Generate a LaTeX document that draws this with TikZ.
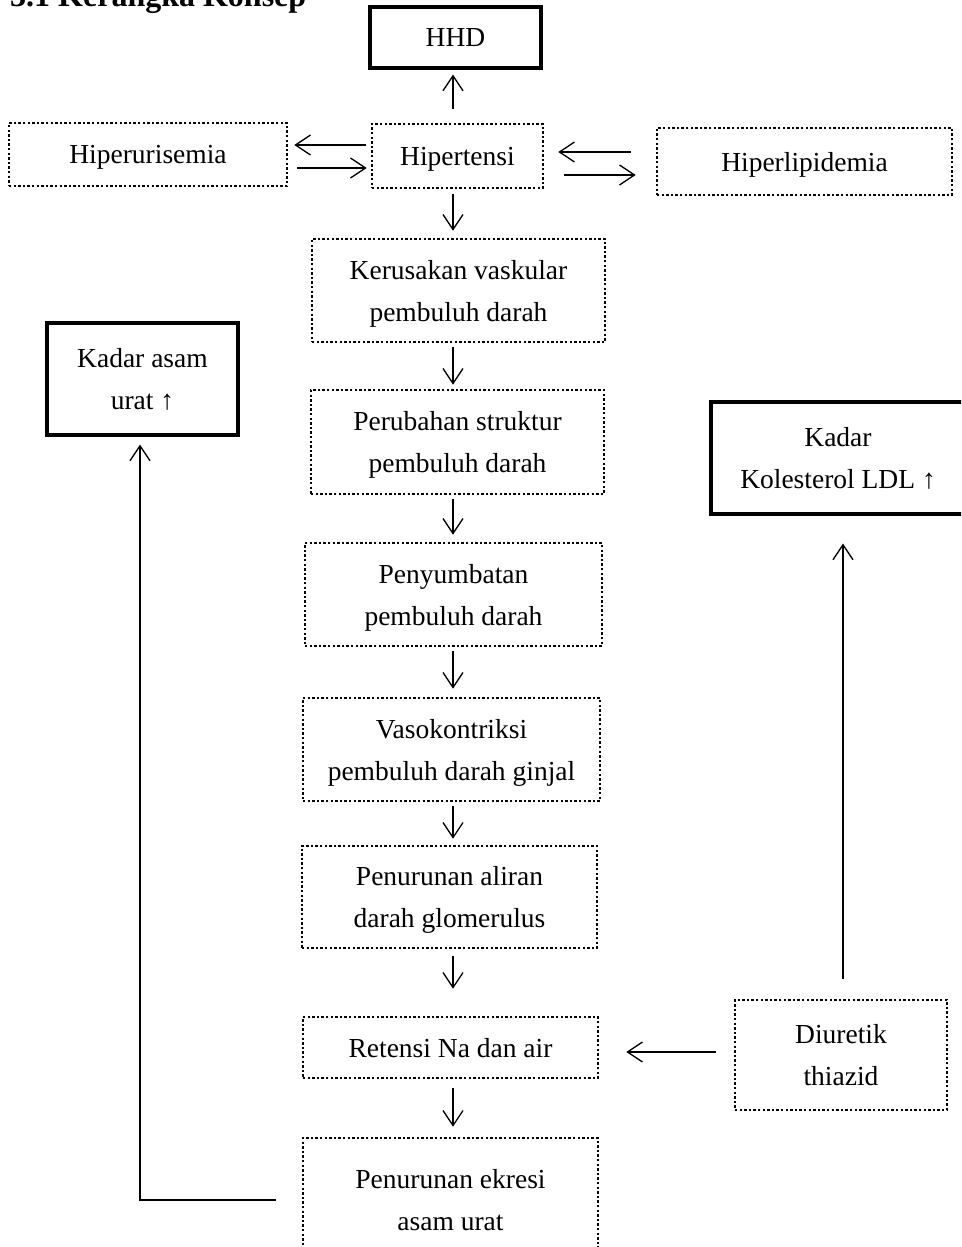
\documentclass[tikz,border=0pt]{standalone}
\usepackage{fontspec}
\setmainfont{Liberation Serif}
\usetikzlibrary{arrows.meta,calc}
\tikzset{
  body/.style={font=\fontsize{27.5}{42}\selectfont, align=center, inner sep=0pt, text depth=-2pt},
  dotbox/.style={body, draw, line width=2.6pt, dash pattern=on 2.4pt off 2.2pt},
  solidbox/.style={body, draw, line width=3.2pt},
  arr/.style={-{Straight Barb[length=15pt,width=20pt]}, line width=1.3pt},
}
\newcommand{\bx}[7]{% name style x1 y1 x2 y2 text
  \node[#2, minimum width={(#5-#3)*1pt}, minimum height={(#6-#4)*1pt}] (#1) at ({(#3+#5)/2},{(#4+#6)/2}) {#7};}
\begin{document}
\begin{tikzpicture}[x=1pt,y=-1pt]
\useasboundingbox (0,0) rectangle (961,1247);
\clip (0,0) rectangle (961,1247);
\node[anchor=base west, font=\fontsize{32}{38}\selectfont\bfseries, inner sep=0pt] (title) at (10,7) {3.1 Kerangka Konsep};
\bx{hhd}{solidbox}{370}{7}{541}{68}{HHD}
\bx{hur}{dotbox}{9}{123}{287}{186}{Hiperurisemia}
\bx{hip}{dotbox}{372}{124}{543}{188}{Hipertensi}
\bx{lip}{dotbox}{657}{128}{952}{195}{Hiperlipidemia}
\bx{ker}{dotbox}{312}{239}{605}{342}{Kerusakan vaskular\\pembuluh darah}
\bx{per}{dotbox}{311}{390}{604}{494}{Perubahan struktur\\pembuluh darah}
\bx{pey}{dotbox}{305}{543}{602}{646}{Penyumbatan\\pembuluh darah}
\bx{vas}{dotbox}{303}{698}{600}{801}{Vasokontriksi\\pembuluh darah ginjal}
\bx{pen}{dotbox}{302}{846}{597}{948}{Penurunan aliran\\darah glomerulus}
\bx{ret}{dotbox}{303}{1017}{598}{1078}{Retensi Na dan air}
\bx{eks}{dotbox}{303}{1138}{598}{1262}{Penurunan ekresi\\asam urat}
\bx{kau}{solidbox}{47}{323}{238}{435}{Kadar asam\\urat ↑}
\bx{kol}{solidbox}{711}{402}{965}{514}{Kadar\\Kolesterol LDL ↑}
\bx{diu}{dotbox}{735}{1000}{947}{1110}{Diuretik\\thiazid}
\coordinate (colx) at (453,0);
% vertical column arrows
\draw[arr] ($(hip.north -| colx)+(0,-14)$) -- ($(hhd.south -| colx)+(0,5)$);
\draw[arr] ($(hip.south -| colx)+(0,5)$) -- ($(ker.north -| colx)+(0,-7)$);
\draw[arr] ($(ker.south -| colx)+(0,4)$) -- ($(per.north -| colx)+(0,-4)$);
\draw[arr] ($(per.south -| colx)+(0,4)$) -- ($(pey.north -| colx)+(0,-7)$);
\draw[arr] ($(pey.south -| colx)+(0,4)$) -- ($(vas.north -| colx)+(0,-8)$);
\draw[arr] ($(vas.south -| colx)+(0,4)$) -- ($(pen.north -| colx)+(0,-6)$);
\draw[arr] ($(pen.south -| colx)+(0,7)$) -- ($(ret.north -| colx)+(0,-27)$);
\draw[arr] ($(ret.south -| colx)+(0,9)$) -- ($(eks.north -| colx)+(0,-10)$);
% horizontal pairs
\draw[arr] ($(hip.west)+(-5,-11)$) coordinate (a1) -- ($(hur.east |- a1)+(6,0)$);
\draw[arr] ($(hur.east)+(9,13.5)$) coordinate (a2) -- ($(hip.west |- a2)+(-4,0)$);
\draw[arr] ($(lip.west)+(-25,-9.5)$) coordinate (a3) -- ($(hip.east |- a3)+(14,0)$);
\draw[arr] ($(hip.east)+(20,19)$) coordinate (a4) -- ($(lip.west |- a4)+(-20,0)$);
% diuretik
\draw[arr] ($(diu.west)+(-18,-3)$) coordinate (a5) -- ($(ret.east |- a5)+(27,0)$);
\draw[arr] ($(diu.north)+(2,-20)$) coordinate (a6) -- ($(kol.south -| a6)+(0,28)$);
% feedback to kadar asam urat
\draw[arr] ($(eks.west)+(-26,0)$) -- ($(eks.west -| kau.south)+(-2.5,0)$) -- ($(kau.south)+(-2.5,8)$);
\end{tikzpicture}
\end{document}
